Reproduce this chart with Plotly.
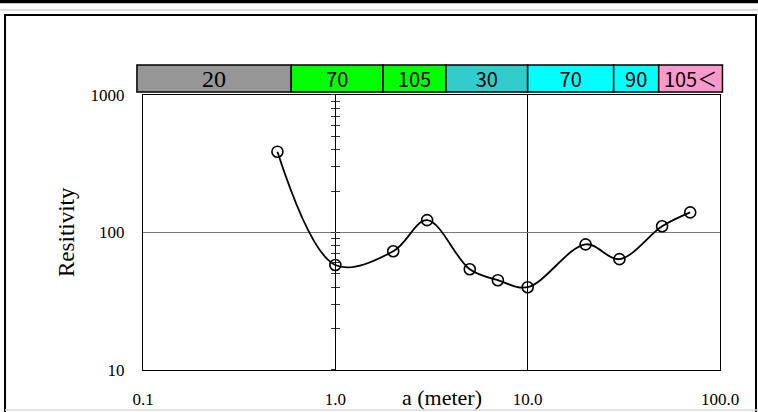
import plotly.graph_objects as go

# ---- data ----
spacing_a = [0.5, 1, 2, 3, 5, 7, 10, 20, 30, 50, 70]
resistivity = [387, 58, 73, 123, 54, 45, 40, 82, 64, 111, 140]

layer_bounds = [0.093, 0.59, 1.77, 3.76, 10, 28, 48, 103]
layer_labels = ["20", "70", "105", "30", "70", "90", "105＜"]
layer_colors = ["#969696", "#00ff00", "#00ff00", "#33cccc", "#00ffff", "#00ffff", "#ff99cc"]

x_tickvals = [0.1, 1, 10, 100]
x_ticktext = ["0.1", "1.0", "10.0", "100.0"]
y_tickvals = [10, 100, 1000]
y_ticktext = ["10", "100", "1000"]
y_minor = [10, 20, 30, 40, 50, 60, 70, 80, 90, 100, 200, 300, 400, 500, 600, 700, 800, 900, 1000]

SERIF = "Liberation Serif"
SANS = "Noto Sans CJK JP"

fig = go.Figure()

# resistivity curve
fig.add_trace(go.Scatter(
    x=spacing_a, y=resistivity, mode="lines+markers",
    line=dict(color="black", width=1.8, shape="spline", smoothing=1.0),
    marker=dict(symbol="circle-open", size=11, color="black", line=dict(width=1.6)),
    xaxis="x", yaxis="y", showlegend=False, hoverinfo="skip"))

# layer band
starts = layer_bounds[:-1]
widths = [b - a for a, b in zip(layer_bounds[:-1], layer_bounds[1:])]
fig.add_trace(go.Bar(
    orientation="h", y=[0] * len(starts), x=widths, base=starts, width=1,
    marker=dict(color=layer_colors, line=dict(color="black", width=1.5)),
    text=layer_labels, textposition="inside", insidetextanchor="middle",
    textangle=0, constraintext="none",
    textfont=dict(family=[SERIF] + [SANS] * 6, size=[24] + [20] * 6, color="black"),
    xaxis="x2", yaxis="y2", showlegend=False, hoverinfo="skip"))

# dummy traces so crossing-tick axes render
for ax in ["y3", "y4"]:
    fig.add_trace(go.Scatter(x=[1], y=[100], mode="markers", marker=dict(opacity=0),
                             xaxis="x", yaxis=ax, showlegend=False, hoverinfo="skip"))

X1_POS = 0.3422
common_minor = dict(type="log", range=[1, 3], overlaying="y", anchor="free", position=X1_POS,
                    side="left", tickmode="array", tickvals=y_minor, showticklabels=False,
                    showgrid=False, zeroline=False, showline=False, ticklen=4,
                    tickwidth=1, tickcolor="#333333", automargin=False)

fig.update_layout(
    template="none",
    width=758, height=412, autosize=False,
    margin=dict(l=130, r=28, t=60, b=42, pad=0),
    paper_bgcolor="white", plot_bgcolor="white",
    xaxis=dict(type="log", range=[-1, 2], domain=[0.02167, 0.98333], anchor="y",
               tickmode="array", tickvals=x_tickvals, ticktext=x_ticktext,
               showgrid=True, gridcolor="black", gridwidth=1,
               showline=True, mirror=True, linecolor="black", linewidth=1,
               ticks="outside", ticklen=14, tickcolor="rgba(0,0,0,0)",
               tickfont=dict(family=SERIF, size=17, color="black"), zeroline=False,
               automargin=False),
    yaxis=dict(type="log", range=[1, 3], domain=[0, 0.8871], anchor="x",
               tickmode="array", tickvals=y_tickvals, ticktext=y_ticktext,
               showgrid=True, gridcolor="#7a7a7a", gridwidth=1,
               showline=True, mirror=True, linecolor="black", linewidth=1,
               ticks="outside", ticklen=14, tickcolor="rgba(0,0,0,0)",
               tickfont=dict(family=SERIF, size=17, color="black"), zeroline=False,
               automargin=False),
    yaxis3=dict(ticks="outside", **common_minor),
    yaxis4=dict(ticks="inside", **common_minor),
    xaxis2=dict(type="log", range=[-1.0676, 2.0520], domain=[0, 1], anchor="y2",
                visible=False, automargin=False),
    yaxis2=dict(range=[-0.574, 0.574], domain=[0.8903, 0.9903], anchor="x2", visible=False,
                automargin=False),
    annotations=[
        dict(text="a (meter)", xref="paper", yref="paper", x=0.52, y=-0.0903,
             showarrow=False, font=dict(family=SERIF, size=22, color="black"),
             xanchor="center", yanchor="middle"),
        dict(text="Resitivity", xref="paper", yref="paper", x=-0.105, y=0.4452,
             showarrow=False, textangle=-90, font=dict(family=SERIF, size=23, color="black"),
             xanchor="center", yanchor="middle"),
    ],
    shapes=[
        dict(type="rect", xref="paper", yref="paper", x0=-0.2083, x1=1.0433, y0=-0.2, y1=1.1452,
             line=dict(color="black", width=2), layer="below"),
        dict(type="line", xref="paper", yref="paper", x0=-0.2167, x1=1.0467, y0=1.1887, y1=1.1887,
             line=dict(color="black", width=3.5)),
        dict(type="line", xref="paper", yref="paper", x0=-0.2167, x1=1.0467, y0=1.1613, y1=1.1613,
             line=dict(color="#bdbdbd", width=1)),
        dict(type="line", xref="paper", yref="paper", x0=-0.2083, x1=1.0467, y0=-0.129, y1=-0.129,
             line=dict(color="#d9d9d9", width=1.5)),
    ],
)

fig.write_html("out.html", config={"displayModeBar": False},
               post_script="document.body.style.margin='0';document.body.style.padding='0';")
